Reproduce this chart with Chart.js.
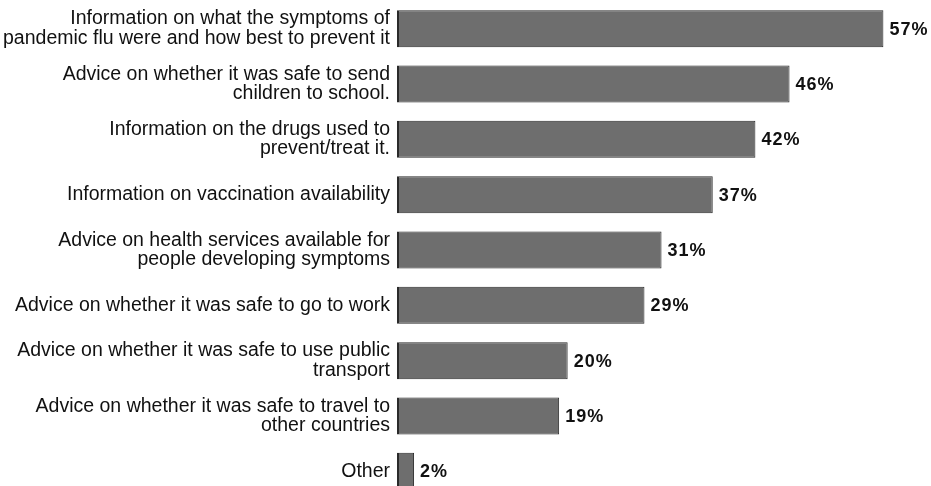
<!DOCTYPE html>
<html>
<head>
<meta charset="utf-8">
<script src="https://cdn.jsdelivr.net/npm/chart.js@4/dist/chart.umd.min.js"></script>
<style>
  html, body { margin: 0; padding: 0; background: #fff; overflow: hidden; }
  #wrap { width: 931px; height: 499px; }
</style>
</head>
<body>
<div id="wrap"><canvas id="infoChart"></canvas></div>
<script>
const categories = [
    ['Information on what the symptoms of', 'pandemic flu were and how best to prevent it'],
    ['Advice on whether it was safe to send', 'children to school.'],
    ['Information on the drugs used to', 'prevent/treat it.'],
    'Information on vaccination availability',
    ['Advice on health services available for', 'people developing symptoms'],
    'Advice on whether it was safe to go to work',
    ['Advice on whether it was safe to use public', 'transport'],
    ['Advice on whether it was safe to travel to', 'other countries'],
    'Other'
];
const values = [57, 46, 42, 37, 31, 29, 20, 19, 2];

// draw the percentage next to each bar
const valueLabels = {
    id: 'valueLabels',
    afterDatasetsDraw(chart) {
        const ctx = chart.ctx;
        const meta = chart.getDatasetMeta(0);
        ctx.save();
        ctx.font = 'bold 18px "Liberation Sans", Arial, sans-serif';
        ctx.fillStyle = '#111';
        ctx.textAlign = 'left';
        ctx.textBaseline = 'middle';
        if ('letterSpacing' in ctx) ctx.letterSpacing = '1px';
        meta.data.forEach((bar, i) => {
            ctx.fillText(values[i] + '%', bar.x + 6, bar.y + 1);
        });
        ctx.restore();
    }
};

const ctx = document.getElementById('infoChart').getContext('2d');
new Chart(ctx, {
    type: 'bar',
    data: {
        labels: categories,
        datasets: [{
            data: values,
            backgroundColor: '#6e6e6e',
            borderColor: '#2a2a2a',
            borderWidth: { left: 2, top: 1, right: 1, bottom: 1 },
            borderSkipped: false,
            barPercentage: 0.67,
            categoryPercentage: 1
        }]
    },
    options: {
        indexAxis: 'y',
        responsive: true,
        maintainAspectRatio: false,
        animation: false,
        layout: { padding: { top: 1, right: 22, bottom: 0, left: 0 } },
        plugins: {
            legend: { display: false },
            tooltip: { enabled: false }
        },
        scales: {
            x: {
                display: false,
                min: 0,
                max: 60
            },
            y: {
                afterFit(scale) {
                    scale.width = 397;
                    scale.paddingTop = 0;
                    scale.paddingBottom = 0;
                },
                grid: { display: false, drawTicks: false },
                border: { display: false },
                ticks: {
                    padding: 7,
                    color: '#111',
                    font: { family: '"Liberation Sans", Arial, sans-serif', size: 19.5, lineHeight: 1.0 }
                }
            }
        }
    },
    plugins: [valueLabels]
});
</script>
</body>
</html>
